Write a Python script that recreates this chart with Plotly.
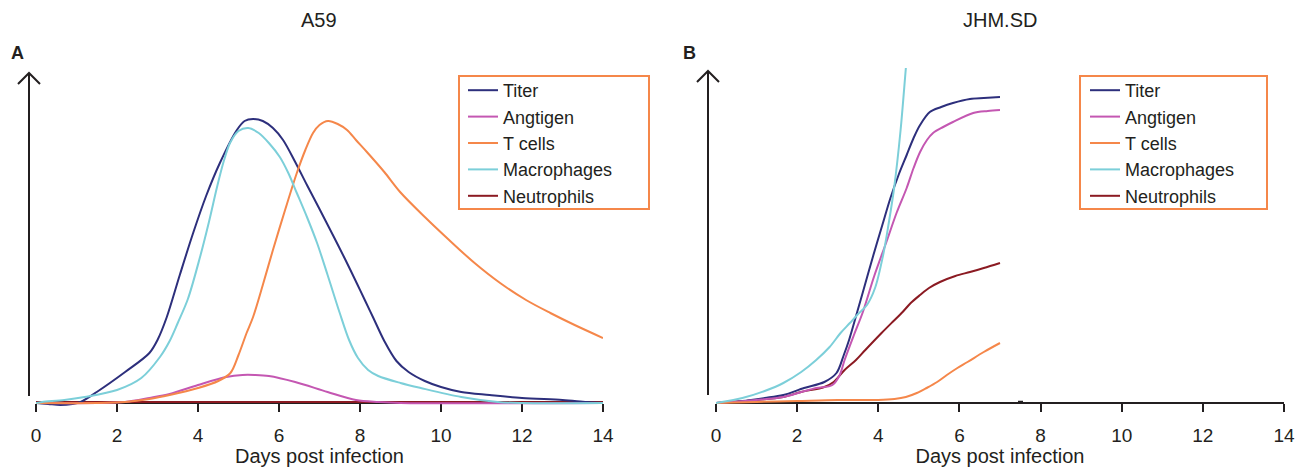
import plotly.graph_objects as go

# ---------------- Panel A: A59 (relative level, arbitrary units) ----------------
a_titer_day = [0, 0.3, 0.6, 0.9, 1.1, 1.5, 2.2, 2.8, 3.0, 3.23, 3.55, 3.88, 4.2, 4.54, 4.96, 5.15, 5.36,
               5.6, 5.85, 6.1, 6.4, 6.69, 7.0, 7.33, 7.63, 7.93, 8.13, 8.33, 8.6, 8.9, 9.2, 9.6, 10, 10.5,
               11.2, 12, 13, 13.6, 14]
a_titer_val = [0, -1, -2, -1, 1, 11, 31, 50, 63, 86, 128, 170, 207, 240, 273, 282, 284,
               282, 275, 263, 241, 218, 194, 168, 144, 119, 102, 85, 62, 42, 31, 22, 16, 11,
               8, 5, 3, 1, 0]

a_antigen_day = [0, 1.5, 2.2, 2.8, 3.3, 4.0, 4.7, 5.1, 5.4, 5.75, 6.4, 7.2, 7.9, 8.45, 9.0, 14]
a_antigen_val = [0, 0, 1, 5, 9, 18, 26, 28, 28, 27, 21, 11, 3, 1, 0, 0]

a_tcell_day = [0, 1.5, 2.2, 2.8, 3.3, 4.0, 4.5, 4.8, 5.0, 5.2, 5.36, 5.6, 5.85, 6.15, 6.44, 6.65, 6.84,
               7.0, 7.21, 7.45, 7.68, 7.9, 8.17, 8.6, 8.99, 9.6, 10.2, 10.8, 11.46, 12.1, 12.7, 13.3, 14]
a_tcell_val = [0, 0, 1, 4, 8, 15, 22, 30, 48, 70, 86, 118, 153, 193, 230, 253, 270,
               278, 282, 279, 273, 263, 251, 231, 211, 186, 163, 141, 120, 103, 90, 78, 65]

a_macro_day = [0, 0.15, 0.7, 1.2, 2.0, 2.6, 3.06, 3.3, 3.5, 3.75, 4.05, 4.27, 4.47, 4.63, 4.79, 5.0, 5.24,
               5.5, 5.75, 6.02, 6.23, 6.44, 6.7, 6.94, 7.2, 7.5, 7.73, 7.95, 8.2, 8.45, 9.0, 9.5, 10.5, 11.4, 12, 14]
a_macro_val = [0, 1, 3, 6, 13, 25, 46, 62, 80, 104, 146, 181, 216, 241, 260, 272, 275,
               270, 260, 246, 230, 210, 185, 160, 128, 90, 63, 45, 33, 27, 20, 15, 6, 1, 0, 0]

a_neutro_day = [0, 14]
a_neutro_val = [1, 1]

# ---------------- Panel B: JHM.SD ----------------
b_titer_day = [0, 0.65, 1.2, 1.66, 2.17, 2.67, 2.97, 3.15, 3.28, 3.48, 3.6, 3.88, 4.1, 4.3, 4.5, 4.7,
               4.87, 5.03, 5.27, 5.55, 5.84, 6.26, 6.6, 7.0]
b_titer_val = [0, 2, 5, 8, 15, 21, 30, 48, 63, 91, 108, 148, 178, 205, 228, 248,
               265, 278, 291, 296, 300, 304, 305, 306]

b_antigen_day = [0, 1.0, 1.66, 2.1, 2.47, 2.87, 3.05, 3.17, 3.4, 3.62, 3.9, 4.2, 4.45, 4.7, 4.87, 5.03,
                 5.2, 5.35, 5.6, 5.84, 6.34, 6.7, 7.0]
b_antigen_val = [0, 3, 6, 11, 15, 18, 28, 43, 68, 91, 127, 161, 190, 215, 235, 251,
                 263, 270, 276, 281, 290, 292, 293]

b_tcell_day = [0, 1.0, 2.0, 3.0, 4.0, 4.4, 4.68, 4.95, 5.19, 5.45, 5.69, 5.95, 6.2, 6.6, 7.0]
b_tcell_val = [0, 1, 2, 3, 3, 4, 6, 10, 15, 21, 28, 35, 41, 51, 60]

b_macro_day = [0, 0.65, 1.2, 1.66, 2.1, 2.47, 2.8, 3.07, 3.3, 3.48, 3.72, 3.92, 4.12, 4.25, 4.39, 4.55,
               4.68, 4.76]
b_macro_val = [0, 5, 12, 20, 31, 43, 56, 70, 80, 88, 98, 115, 148, 178, 215, 273,
               335, 372]

b_neutro_day = [0, 1.0, 1.66, 2.1, 2.67, 2.9, 3.17, 3.45, 3.68, 4.08, 4.35, 4.6, 4.8, 5.03, 5.25,
                5.52, 5.9, 6.26, 6.6, 7.0]
b_neutro_val = [0, 3, 6, 11, 16, 21, 33, 43, 53, 70, 81, 91, 100, 108, 115,
                121, 127, 131, 135, 140]

series_names = ["Titer", "Angtigen", "T cells", "Macrophages", "Neutrophils"]
colors = ["#2d2f7c", "#c457b2", "#f5874a", "#7ccfd9", "#8b1a22"]

panel_a = [(a_titer_day, a_titer_val), (a_antigen_day, a_antigen_val), (a_tcell_day, a_tcell_val),
           (a_macro_day, a_macro_val), (a_neutro_day, a_neutro_val)]
panel_b = [(b_titer_day, b_titer_val), (b_antigen_day, b_antigen_val), (b_tcell_day, b_tcell_val),
           (b_macro_day, b_macro_val), (b_neutro_day, b_neutro_val)]

x_ticks = [0, 2, 4, 6, 8, 10, 12, 14]
panel_titles = ["A59", "JHM.SD"]
panel_letters = ["A", "B"]
x_title = "Days post infection"

W, H = 1304, 467
TXT = "#231f20"
FONT = "Liberation Sans, Arial, sans-serif"


def px(x):
    return x / W


def py(y):
    return 1 - y / H


fig = go.Figure()

# draw order: neutrophils first (lies on axis), then others
order = [4, 0, 1, 2, 3]
for i in order:
    d, v = panel_a[i]
    fig.add_trace(go.Scatter(x=d, y=v, mode="lines", name=series_names[i],
                             line=dict(color=colors[i], width=2, shape="spline", smoothing=0.9),
                             xaxis="x", yaxis="y", legend="legend", legendrank=i + 1,
                             hoverinfo="skip"))
for i in order:
    d, v = panel_b[i]
    fig.add_trace(go.Scatter(x=d, y=v, mode="lines", name=series_names[i],
                             line=dict(color=colors[i], width=2, shape="spline", smoothing=0.9),
                             xaxis="x2", yaxis="y2", legend="legend2", legendrank=i + 1,
                             hoverinfo="skip"))

y_dom = [py(412), py(68)]
y_rng = [-9, 335]

xa = dict(range=[0, 14], tickvals=x_ticks, ticks="outside", ticklen=8, tickwidth=1.5,
          tickcolor=TXT, showline=True, linecolor=TXT, linewidth=1.5, showgrid=False,
          zeroline=False, anchor="free", position=py(403), layer="below traces", automargin=False,
          tickfont=dict(size=19, color=TXT, family=FONT), ticklabelstandoff=7,
          title=dict(text=x_title, font=dict(size=20, color=TXT, family=FONT), standoff=7),
          fixedrange=True)
ya = dict(range=y_rng, visible=False, showgrid=False, zeroline=False, fixedrange=True, automargin=False)

leg_font = dict(size=18, color=TXT, family=FONT)
fig.update_layout(
    width=W, height=H, autosize=False,
    margin=dict(l=0, r=0, t=0, b=0, pad=0, autoexpand=False),
    paper_bgcolor="white", plot_bgcolor="white",
    font=dict(family=FONT, color=TXT, size=18),
    xaxis=dict(domain=[px(36), px(603)], **xa),
    yaxis=dict(domain=y_dom, anchor="x", **ya),
    xaxis2=dict(domain=[px(716), px(1284)], **xa),
    yaxis2=dict(domain=y_dom, anchor="x2", **ya),
    legend=dict(x=px(463), y=py(72), xanchor="left", yanchor="top", bgcolor="rgba(0,0,0,0)",
                borderwidth=0, font=leg_font, traceorder="normal"),
    legend2=dict(x=px(1085), y=py(72), xanchor="left", yanchor="top", bgcolor="rgba(0,0,0,0)",
                 borderwidth=0, font=leg_font, traceorder="normal"),
    showlegend=True,
)

shapes = []
# legend boxes
for (l, t, r, b) in [(459, 76, 649, 209), (1080, 76, 1267, 209)]:
    shapes.append(dict(type="rect", xref="paper", yref="paper", x0=px(l), x1=px(r), y0=py(b), y1=py(t),
                       line=dict(color="#f5874a", width=2), fillcolor="rgba(0,0,0,0)", layer="above"))
# vertical arrows
for (ax, top, bot) in [(29, 73, 396), (708, 71, 395)]:
    shapes.append(dict(type="line", xref="paper", yref="paper", x0=px(ax), x1=px(ax), y0=py(bot), y1=py(top),
                       line=dict(color=TXT, width=2)))
    shapes.append(dict(type="path", xref="paper", yref="paper",
                       path=f"M {px(ax-11)},{py(top+11)} L {px(ax)},{py(top)} L {px(ax+11)},{py(top+11)}",
                       line=dict(color=TXT, width=2)))
# small stray mark in panel B
shapes.append(dict(type="line", xref="paper", yref="paper", x0=px(1018), x1=px(1023), y0=py(401.5), y1=py(401.5),
                   line=dict(color=TXT, width=1.5)))
fig.update_layout(shapes=shapes)

annotations = []
for title, cx in zip(panel_titles, [319, 1000]):
    annotations.append(dict(text=title, xref="paper", yref="paper", x=px(cx), y=py(20), xanchor="center",
                            yanchor="middle", showarrow=False, font=dict(size=20, color=TXT, family=FONT)))
for letter, lx in zip(panel_letters, [9, 681]):
    annotations.append(dict(text=f"<b>{letter}</b>", xref="paper", yref="paper", x=px(lx), y=py(53),
                            xanchor="left", yanchor="middle", showarrow=False,
                            font=dict(size=18, color=TXT, family=FONT)))
fig.update_layout(annotations=annotations)

fig.write_html("out.html", config={"displayModeBar": False, "responsive": False},
               post_script="document.body.style.margin='0';document.body.style.overflow='hidden';")
